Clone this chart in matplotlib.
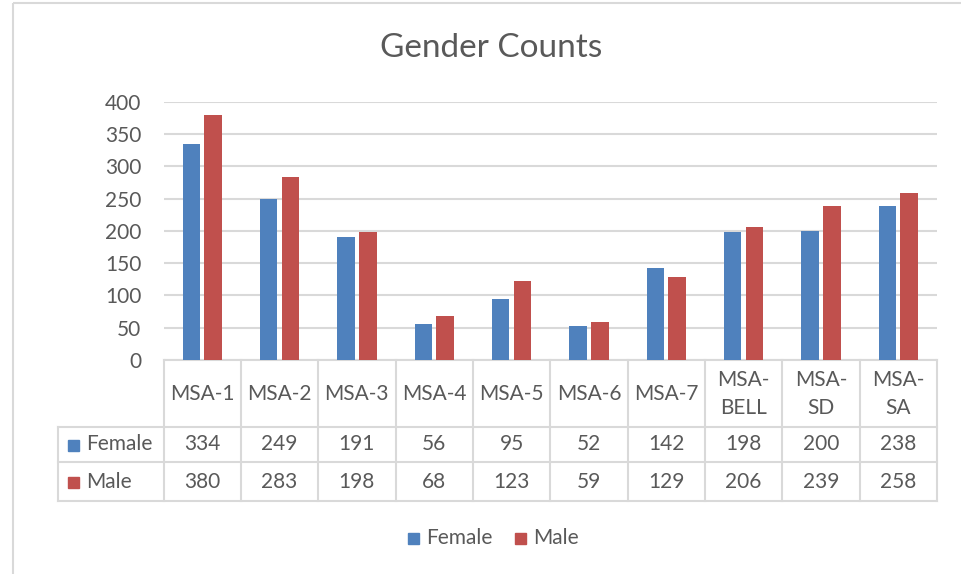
import matplotlib.pyplot as plt
import matplotlib.transforms as mtransforms
import numpy as np
from matplotlib.patches import Rectangle

# chart data
categories = ['MSA-1', 'MSA-2', 'MSA-3', 'MSA-4', 'MSA-5', 'MSA-6', 'MSA-7',
              'MSA-\nBELL', 'MSA-\nSD', 'MSA-\nSA']
female = [334, 249, 191, 56, 95, 52, 142, 198, 200, 238]
male = [380, 283, 198, 68, 123, 59, 129, 206, 239, 258]
series_names = ['Female', 'Male']
yticks = [0, 50, 100, 150, 200, 250, 300, 350, 400]

BLUE = '#4F81BD'
RED = '#C0504D'
GRID = '#D9D9D9'
TEXT = '#595959'
W, H = 961, 574
FS = 15

plt.rcParams['font.family'] = ['Lato', 'DejaVu Sans']

fig = plt.figure(figsize=(W / 100, H / 100), dpi=100)

# overlay in pixel coords for frame, table and legend
over = fig.add_axes([0, 0, 1, 1])
over.set_xlim(0, W)
over.set_ylim(H, 0)
over.axis('off')
over.add_patch(Rectangle((13, 3), W, H, fill=False, edgecolor=GRID, lw=1.5))

left, right, bottom, top = 163.5, 937, 360, 101.7
ax = fig.add_axes([left / W, (H - bottom) / H, (right - left) / W, (bottom - top) / H])
x = np.arange(len(categories))
bw = 0.226
ax.bar(x - 0.141, female, bw, color=BLUE, zorder=3)
ax.bar(x + 0.141, male, bw, color=RED, zorder=3)
ax.set_xlim(-0.5, len(categories) - 0.5)
ax.set_ylim(0, 400)
ax.set_yticks(yticks)
ax.set_xticks([])
ax.yaxis.grid(True, color=GRID, lw=1.5, zorder=0)
for s in ['top', 'right', 'left']:
    ax.spines[s].set_visible(False)
ax.spines['bottom'].set_color(GRID)
ax.spines['bottom'].set_linewidth(1.5)
ax.tick_params(axis='y', length=0, pad=16, labelsize=FS, labelcolor=TEXT)
ax.patch.set_alpha(0)

over.text(491, 48, 'Gender Counts', ha='center', va='center',
          fontsize=24, color=TEXT)

# data table under the axis
tr = mtransforms.blended_transform_factory(ax.transData, over.transData)
row_y = [360, 427, 462, 501]
label_left = 58
edges = np.arange(len(categories) + 1) - 0.5
for e in edges:
    over.plot([e, e], [row_y[0], row_y[-1]], color=GRID, lw=1.5, transform=tr)
over.plot([label_left, label_left], [row_y[1], row_y[-1]], color=GRID, lw=1.5)
x_right = ax.transData.transform((edges[-1], 0))[0]
for yy in row_y[1:]:
    over.plot([label_left, x_right], [yy, yy], color=GRID, lw=1.5)

for i, c in enumerate(categories):
    over.text(i, (row_y[0] + row_y[1]) / 2, c, ha='center', va='center',
              fontsize=FS, color=TEXT, linespacing=1.5, transform=tr)
for r, (name, vals, col) in enumerate(zip(series_names, [female, male], [BLUE, RED])):
    yc = (row_y[r + 1] + row_y[r + 2]) / 2
    over.add_patch(Rectangle((68, yc - 5), 11, 11, color=col))
    over.text(86, yc, name, ha='left', va='center', fontsize=FS, color=TEXT)
    for i, v in enumerate(vals):
        over.text(i, yc, str(v), ha='center', va='center', fontsize=FS,
                  color=TEXT, transform=tr)

# legend
leg = [(408, 'Female', BLUE), (515, 'Male', RED)]
for lx, name, col in leg:
    over.add_patch(Rectangle((lx, 533), 11, 11, color=col))
    over.text(lx + 18, 538, name, ha='left', va='center', fontsize=FS, color=TEXT)

fig.savefig('out.png', dpi=100)
